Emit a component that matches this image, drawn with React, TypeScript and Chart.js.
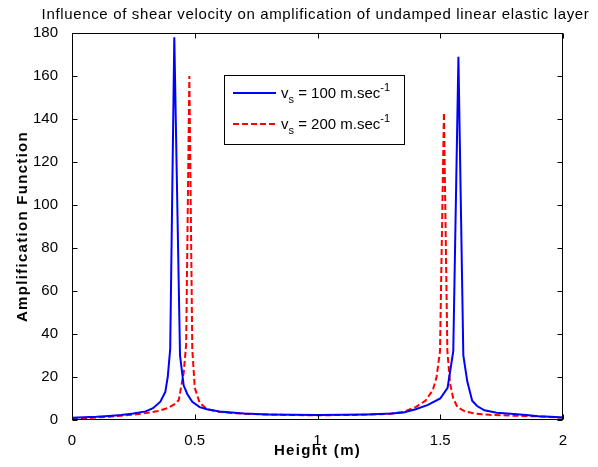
import React, { useEffect, useRef } from "react";
import { Chart, registerables } from "chart.js";

Chart.register(...registerables);

// ---------- data ----------
const titleText =
  "Influence of shear velocity on amplification of undamped linear elastic layer";
const xTitle = "Height (m)";
const yTitle = "Amplification Function";

const xTickValues = [0, 0.5, 1, 1.5, 2];
const yTickValues = [0, 20, 40, 60, 80, 100, 120, 140, 160, 180];

const seriesSpeeds = [100, 200]; // shear velocity, m/s

// v_s = 100 m/s
const vs100X = [
  0, 0.05, 0.1, 0.15, 0.2, 0.25, 0.3, 0.33, 0.36, 0.38, 0.39, 0.4, 0.4167, 0.44,
  0.455, 0.47, 0.49, 0.52, 0.55, 0.6, 0.65, 0.7, 0.8, 0.9, 1.0, 1.1, 1.2, 1.3,
  1.35, 1.4, 1.45, 1.5, 1.53, 1.553, 1.574, 1.594, 1.61, 1.63, 1.65, 1.68, 1.73,
  1.8, 1.85, 1.9, 1.95, 2.0,
];
const vs100Y = [
  1.0, 1.3, 1.5, 1.9, 2.3, 3.0, 4.0, 5.5, 8.5, 13, 20, 33, 178, 30,
  16, 12, 8.5, 6, 5, 4, 3.5, 3, 2.6, 2.4, 2.3, 2.4, 2.6, 3,
  3.5, 5, 7, 10, 15, 32, 169, 30, 18, 9, 6.5, 4.5, 3.4,
  2.8, 2.3, 1.8, 1.5, 1.2,
];

// v_s = 200 m/s
const vs200X = [
  0, 0.05, 0.1, 0.15, 0.2, 0.25, 0.3, 0.35, 0.39, 0.42, 0.435, 0.455, 0.465,
  0.478, 0.49, 0.5, 0.52, 0.55, 0.6, 0.65, 0.7, 0.8, 0.9, 1.0, 1.1, 1.2, 1.3,
  1.35, 1.4, 1.44, 1.47, 1.485, 1.499, 1.515, 1.529, 1.54, 1.553, 1.57, 1.6,
  1.64, 1.7, 1.8, 1.9, 2.0,
];
const vs200Y = [
  0.6, 0.8, 1.2, 1.5, 2, 2.5, 3.2, 4.2, 5.5, 7.5, 9.3, 22, 35,
  160, 33, 15, 8, 5, 3.8, 3.2, 2.9, 2.5, 2.3, 2.2, 2.3, 2.5, 2.9,
  3.8, 6, 9, 14, 20, 32, 143, 32, 17, 10, 6, 4,
  3, 2.4, 2, 1.7, 1.0,
];

const seriesColors = ["#0000ff", "#ff0000"];

// ---------- styling helpers ----------
const FONT = '"Liberation Sans", Arial, Helvetica, sans-serif';
const W = 598;
const H = 467;
const PLOT = { left: 72, right: 563, top: 33, bottom: 420 };

function setSpacing(ctx: any, px: number) {
  if ("letterSpacing" in ctx) ctx.letterSpacing = px + "px";
}

function drawVsLabel(ctx: CanvasRenderingContext2D, x: number, y: number, speed: number) {
  ctx.fillStyle = "#000";
  ctx.textAlign = "left";
  ctx.textBaseline = "alphabetic";
  let cx = x;
  ctx.font = `15px ${FONT}`;
  ctx.fillText("v", cx, y);
  cx += ctx.measureText("v").width;
  ctx.font = `11px ${FONT}`;
  ctx.fillText("s", cx, y + 5);
  cx += ctx.measureText("s").width;
  ctx.font = `15px ${FONT}`;
  const mid = ` = ${speed} m.sec`;
  ctx.fillText(mid, cx, y);
  cx += ctx.measureText(mid).width;
  ctx.font = `11px ${FONT}`;
  ctx.fillText("-1", cx, y - 7);
}

const framePlugin = {
  id: "matlabFrame",
  afterDraw(chart: any) {
    const { ctx, chartArea: a, scales } = chart;
    ctx.save();
    // axes box
    ctx.strokeStyle = "#000";
    ctx.lineWidth = 1;
    setSpacing(ctx, 0);
    const L = Math.round(a.left) + 0.5;
    const R = Math.round(a.right) - 0.5;
    const T = Math.round(a.top) + 0.5;
    const B = Math.round(a.bottom) - 0.5;
    ctx.strokeRect(L, T, R - L, B - T);
    const tl = 5;
    ctx.beginPath();
    scales.x.ticks.forEach((t: any) => {
      const px = Math.round(scales.x.getPixelForValue(t.value)) + 0.5;
      ctx.moveTo(px, B);
      ctx.lineTo(px, B - tl);
      ctx.moveTo(px, T);
      ctx.lineTo(px, T + tl);
    });
    scales.y.ticks.forEach((t: any) => {
      const py = Math.round(scales.y.getPixelForValue(t.value)) + 0.5;
      ctx.moveTo(L, py);
      ctx.lineTo(L + tl, py);
      ctx.moveTo(R, py);
      ctx.lineTo(R - tl, py);
    });
    ctx.stroke();

    // title
    ctx.fillStyle = "#000";
    ctx.font = `15px ${FONT}`;
    setSpacing(ctx, 0.65);
    ctx.textAlign = "center";
    ctx.textBaseline = "middle";
    ctx.fillText(titleText, (a.left + a.right) / 2 - 2, 15);

    // axis titles
    ctx.font = `bold 15px ${FONT}`;
    setSpacing(ctx, 1.3);
    ctx.fillText(xTitle, (a.left + a.right) / 2, 451);
    ctx.save();
    ctx.translate(23, (a.top + a.bottom) / 2);
    ctx.rotate(-Math.PI / 2);
    ctx.fillText(yTitle, 0, 0);
    ctx.restore();
    setSpacing(ctx, 0);

    // legend
    const lx = 224.5, ly = 75.5, lw = 180, lh = 69;
    ctx.fillStyle = "#fff";
    ctx.fillRect(lx, ly, lw, lh);
    ctx.strokeStyle = "#000";
    ctx.lineWidth = 1;
    ctx.strokeRect(lx, ly, lw, lh);
    const rows = [93, 124];
    chart.data.datasets.forEach((ds: any, i: number) => {
      ctx.save();
      ctx.strokeStyle = ds.borderColor;
      ctx.lineWidth = 2;
      ctx.setLineDash(ds.borderDash || []);
      ctx.beginPath();
      ctx.moveTo(233, rows[i]);
      ctx.lineTo(276, rows[i]);
      ctx.stroke();
      ctx.restore();
      drawVsLabel(ctx, 281, rows[i] + 5, seriesSpeeds[i]);
    });
    ctx.restore();
  },
};

export default function App() {
  const canvasRef = useRef<HTMLCanvasElement | null>(null);

  useEffect(() => {
    if (!canvasRef.current) return;
    const toPts = (xs: number[], ys: number[]) => xs.map((x, i) => ({ x, y: ys[i] }));
    const chart = new Chart(canvasRef.current, {
      type: "line",
      data: {
        datasets: [
          {
            label: `vs = ${seriesSpeeds[0]} m.sec-1`,
            data: toPts(vs100X, vs100Y),
            borderColor: seriesColors[0],
            borderWidth: 2,
            pointRadius: 0,
            tension: 0,
            fill: false,
          },
          {
            label: `vs = ${seriesSpeeds[1]} m.sec-1`,
            data: toPts(vs200X, vs200Y),
            borderColor: seriesColors[1],
            borderWidth: 2,
            borderDash: [6, 3],
            pointRadius: 0,
            tension: 0,
            fill: false,
          },
        ],
      },
      options: {
        responsive: false,
        animation: false,
        devicePixelRatio: 1,
        layout: {
          padding: { left: 0, top: PLOT.top, right: W - PLOT.right, bottom: 0 },
        },
        plugins: {
          legend: { display: false },
          title: { display: false },
          tooltip: { enabled: false },
        },
        scales: {
          x: {
            type: "linear",
            min: 0,
            max: 2,
            afterBuildTicks: (s: any) => {
              s.ticks = xTickValues.map((v) => ({ value: v }));
            },
            ticks: {
              color: "#000",
              font: { family: FONT, size: 15 },
              padding: 4,
              maxRotation: 0,
              callback: (v: any) => String(v),
            },
            grid: { display: false },
            border: { display: false },
            afterFit: (s: any) => {
              s.height = H - PLOT.bottom;
            },
          },
          y: {
            type: "linear",
            min: 0,
            max: 180,
            afterBuildTicks: (s: any) => {
              s.ticks = yTickValues.map((v) => ({ value: v }));
            },
            ticks: {
              color: "#000",
              font: { family: FONT, size: 15 },
              padding: 6,
              callback: (v: any) => String(v),
            },
            grid: { display: false },
            border: { display: false },
            afterFit: (s: any) => {
              s.width = PLOT.left;
            },
          },
        },
      },
      plugins: [framePlugin],
    } as any);
    return () => chart.destroy();
  }, []);

  return (
    <div style={{ position: "fixed", left: 0, top: 0, width: W, height: H, background: "#fff" }}>
      <canvas ref={canvasRef} width={W} height={H} style={{ width: W, height: H }} />
    </div>
  );
}
